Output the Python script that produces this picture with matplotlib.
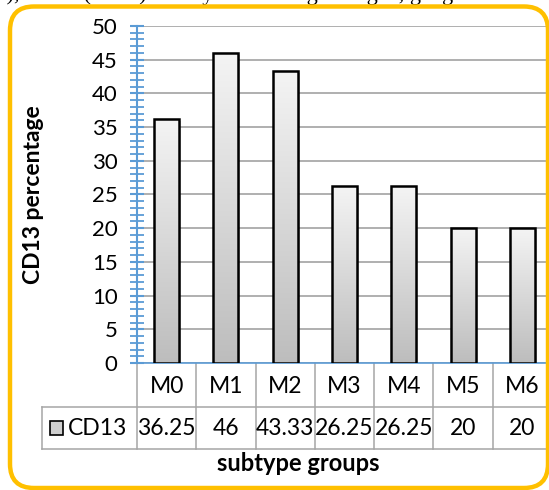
import numpy as np
import matplotlib
matplotlib.use("Agg")
import matplotlib.pyplot as plt
from matplotlib.patches import Rectangle, FancyBboxPatch
from matplotlib.transforms import blended_transform_factory
from matplotlib.ticker import MultipleLocator

# データ
groups = ["M0", "M1", "M2", "M3", "M4", "M5", "M6"]
cd13 = [36.25, 46, 43.33, 26.25, 26.25, 20, 20]
value_labels = ["36.25", "46", "43.33", "26.25", "26.25", "20", "20"]
series_name = "CD13"

plt.rcParams['font.family'] = ['Lato', 'DejaVu Sans']

W, H = 549, 490
fig = plt.figure(figsize=(W / 100, H / 100), dpi=100)
fy = lambda px: 1 - px / H
fx = lambda px: px / W

# プロット領域
ax = fig.add_axes([fx(137), fy(363), fx(552) - fx(137), fy(26) - fy(363)])

# グラデーションの棒
bar_w = 0.42
grad = np.linspace(0, 1, 200).reshape(-1, 1)
cmap = matplotlib.colors.LinearSegmentedColormap.from_list("g", ["#BDBDBD", "#F4F4F4"])
for i, v in enumerate(cd13):
    # 影
    ax.add_patch(Rectangle((i - bar_w / 2 + 0.035, -0.3), bar_w, v, facecolor="#000000",
                           alpha=0.18, edgecolor="none", zorder=2))
    ax.imshow(grad, extent=[i - bar_w / 2, i + bar_w / 2, 0, v], origin="lower",
              aspect="auto", cmap=cmap, zorder=3)
    ax.add_patch(Rectangle((i - bar_w / 2, 0), bar_w, v, facecolor="none",
                           edgecolor="black", linewidth=1.8, zorder=4))
ax.set_xlim(-0.5, len(groups) - 0.5)
ax.set_ylim(0, 50)

# 軸とグリッド
ax.yaxis.set_major_locator(MultipleLocator(5))
ax.yaxis.set_minor_locator(MultipleLocator(1))
ax.grid(axis="y", color="#9A9A9A", linewidth=1.1, zorder=0)
ax.set_axisbelow(True)
ax.set_xticks([])
for s in ["top", "right"]:
    ax.spines[s].set_visible(False)
ax.spines["left"].set_color("#5B9BD5")
ax.spines["left"].set_linewidth(1.5)
ax.spines["bottom"].set_color("#5B9BD5")
ax.spines["bottom"].set_linewidth(1.2)
ax.tick_params(axis="y", which="both", direction="inout", length=10, width=1.5,
               color="#5B9BD5", labelsize=16, pad=9)
ax.tick_params(axis="y", which="minor", length=10, width=1.3)
fig.text(fx(34), fy(195), "CD13 percentage", rotation=90, fontsize=16.5,
         fontweight="bold", ha="center", va="center")

# データテーブル
tr = blended_transform_factory(ax.transData, fig.transFigure)
gc = "#A6A6A6"
n = len(groups)
for k in range(n + 1):
    ax.plot([k - 0.5, k - 0.5], [fy(363), fy(449)], transform=tr, color=gc,
            linewidth=1.1, clip_on=False)
fig.add_artist(plt.Line2D([fx(42), fx(42)], [fy(407), fy(449)], color=gc, linewidth=1.1))
fig.add_artist(plt.Line2D([fx(42), 1], [fy(407), fy(407)], color=gc, linewidth=1.1))
fig.add_artist(plt.Line2D([fx(42), 1], [fy(449), fy(449)], color=gc, linewidth=1.1))
for i, (g, lab) in enumerate(zip(groups, value_labels)):
    ax.text(i, fy(386), g, transform=tr, ha="center", va="center", fontsize=16.5)
    ax.text(i, fy(428), lab, transform=tr, ha="center", va="center", fontsize=16.5)
fig.add_artist(Rectangle((fx(50), fy(435)), fx(13), fy(421) - fy(435), facecolor="#CFCFCF",
                         edgecolor="black", linewidth=1.2))
fig.text(fx(68), fy(428), series_name, ha="left", va="center", fontsize=16.5)

fig.text(fx(298), fy(463), "subtype groups", ha="center", va="center",
         fontsize=17, fontweight="bold")

# 枠線
fig.patches.append(FancyBboxPatch((10 / 100, (H - 488) / 100), 538 / 100, 481.5 / 100,
                                  boxstyle="round,pad=0,rounding_size=0.24",
                                  transform=fig.dpi_scale_trans, facecolor="none",
                                  edgecolor="#FFC000", linewidth=3.2, zorder=10))

# 上部の切れた本文
fig.text(fx(-6), fy(0), "ii), CD33 (clone) the myeloid lineage antigen, gang",
         family="Liberation Serif", fontsize=16, ha="left", va="baseline")

fig.savefig("out.png", dpi=100)
